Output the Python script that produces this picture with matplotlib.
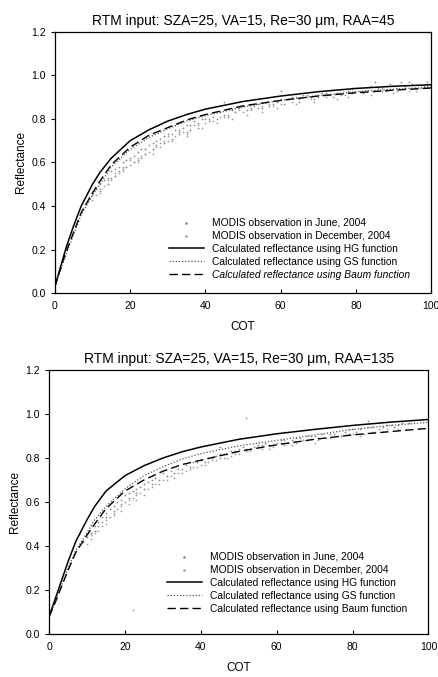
import numpy as np
import matplotlib
matplotlib.use("Agg")
from matplotlib import pyplot as plt

plt.rcParams['font.family'] = ['Liberation Sans', 'DejaVu Sans']

# ---- calculated curves (COT grid shared) ----
cot = [0, 1, 2, 3, 5, 7, 10, 12, 15, 20, 25, 30, 35, 40, 50, 60, 70, 80, 90, 100]

hg_45 = [0.03, 0.09, 0.15, 0.21, 0.31, 0.40, 0.50, 0.555, 0.62, 0.70, 0.75, 0.79, 0.82, 0.845,
         0.88, 0.905, 0.925, 0.94, 0.95, 0.957]
gs_45 = [0.03, 0.08, 0.13, 0.18, 0.27, 0.36, 0.45, 0.50, 0.58, 0.66, 0.715, 0.755, 0.79, 0.815,
         0.855, 0.885, 0.907, 0.925, 0.937, 0.945]
baum_45 = [0.03, 0.085, 0.14, 0.19, 0.28, 0.37, 0.46, 0.515, 0.59, 0.67, 0.725, 0.76, 0.795, 0.82,
           0.86, 0.885, 0.905, 0.92, 0.932, 0.942]

hg_135 = [0.08, 0.13, 0.18, 0.23, 0.33, 0.42, 0.52, 0.58, 0.65, 0.72, 0.765, 0.80, 0.828, 0.85,
          0.885, 0.91, 0.93, 0.948, 0.963, 0.975]
gs_135 = [0.08, 0.12, 0.165, 0.21, 0.30, 0.38, 0.46, 0.52, 0.58, 0.66, 0.72, 0.76, 0.795, 0.82,
          0.855, 0.88, 0.905, 0.93, 0.948, 0.962]
baum_135 = [0.08, 0.12, 0.16, 0.205, 0.29, 0.37, 0.45, 0.50, 0.57, 0.65, 0.70, 0.74, 0.77, 0.79,
            0.83, 0.86, 0.885, 0.905, 0.92, 0.935]

jun_45_x = [8, 9, 10, 11, 12, 12, 13, 14, 15, 15, 16, 17, 18, 18, 19, 20, 21, 22, 22, 23, 24, 25,
            26, 27, 28, 29, 30, 31, 32, 33, 34, 35, 36, 37, 38, 39, 40, 42, 44, 45, 47, 49, 50, 52,
            54, 56, 58, 60, 62, 64, 66, 68, 70, 72, 75, 78, 80, 83, 86, 88, 90, 93, 95, 98, 100,
            45, 60, 85, 92,
            14, 16, 17, 19, 21, 23, 24, 26, 27, 29, 31, 33, 35, 36, 38, 41, 43, 46, 48, 51, 53,
            55, 57, 59, 61, 63, 65, 67, 69, 71, 74, 77, 79, 82, 84, 87, 89, 91, 94, 96, 99]
jun_45_y = [0.41, 0.44, 0.45, 0.48, 0.50, 0.47, 0.52, 0.53, 0.56, 0.53, 0.57, 0.58, 0.60, 0.57,
            0.61, 0.62, 0.63, 0.65, 0.61, 0.66, 0.66, 0.68, 0.69, 0.70, 0.71, 0.72, 0.73, 0.73,
            0.75, 0.75, 0.76, 0.77, 0.77, 0.79, 0.78, 0.80, 0.80, 0.81, 0.83, 0.82, 0.84, 0.85,
            0.86, 0.85, 0.87, 0.88, 0.87, 0.89, 0.89, 0.90, 0.91, 0.90, 0.91, 0.92, 0.92, 0.93,
            0.94, 0.93, 0.94, 0.95, 0.95, 0.94, 0.96, 0.95, 0.96,
            0.88, 0.93, 0.97, 0.97,
            0.50, 0.54, 0.56, 0.58, 0.60, 0.62, 0.64, 0.66, 0.68, 0.69, 0.71, 0.73, 0.74, 0.75,
            0.76, 0.79, 0.80, 0.81, 0.83, 0.84, 0.86, 0.85, 0.86, 0.88, 0.87, 0.90, 0.88, 0.91,
            0.89, 0.92, 0.90, 0.91, 0.94, 0.92, 0.95, 0.93, 0.96, 0.93, 0.97, 0.94, 0.97]
dec_45_x = [10, 11, 12, 13, 14, 15, 16, 17, 18, 19, 20, 21, 22, 23, 24, 25, 26, 27, 28, 29, 30,
            32, 34, 36, 38, 40, 42, 44, 46, 48, 50, 52, 55, 58, 60, 63, 65, 68, 70, 73, 76, 79,
            82, 85, 88, 91, 94, 97, 100, 35, 55, 75,
            12, 14, 16, 18, 20, 22, 24, 26, 28, 30, 31, 33, 35, 37, 39, 41, 43, 45, 47, 49, 51,
            54, 57, 59, 62, 64, 67, 69, 72, 75, 78, 81, 84, 87, 90, 93, 96, 99]
dec_45_y = [0.43, 0.45, 0.46, 0.49, 0.50, 0.52, 0.54, 0.55, 0.56, 0.58, 0.59, 0.60, 0.62, 0.63,
            0.64, 0.65, 0.66, 0.67, 0.69, 0.70, 0.70, 0.72, 0.74, 0.75, 0.77, 0.78, 0.79, 0.81,
            0.82, 0.83, 0.83, 0.84, 0.86, 0.86, 0.87, 0.88, 0.89, 0.89, 0.90, 0.91, 0.91, 0.92,
            0.92, 0.93, 0.93, 0.94, 0.93, 0.94, 0.94, 0.72, 0.83, 0.89,
            0.48, 0.52, 0.55, 0.58, 0.61, 0.60, 0.66, 0.64, 0.67, 0.72, 0.70, 0.74, 0.73, 0.77,
            0.76, 0.80, 0.78, 0.81, 0.80, 0.84, 0.82, 0.85, 0.87, 0.85, 0.89, 0.87, 0.90, 0.88,
            0.90, 0.92, 0.90, 0.93, 0.91, 0.94, 0.92, 0.95, 0.93, 0.95]

jun_135_x = [9, 10, 11, 12, 13, 14, 15, 16, 17, 18, 19, 20, 21, 22, 23, 24, 25, 26, 27, 28, 30,
             32, 34, 36, 38, 40, 42, 44, 46, 48, 50, 52, 54, 56, 58, 60, 62, 64, 66, 68, 70, 72,
             75, 78, 80, 82, 85, 88, 90, 92, 95, 45, 62, 84, 52, 72,
             12, 14, 15, 17, 19, 21, 23, 25, 27, 29, 31, 33, 35, 37, 39, 41, 43, 45, 47, 49, 51,
             53, 55, 57, 59, 61, 63, 65, 67, 69, 71, 74, 77, 79, 81, 84, 87, 89, 91, 93]
jun_135_y = [0.42, 0.44, 0.46, 0.49, 0.51, 0.53, 0.55, 0.57, 0.58, 0.60, 0.61, 0.63, 0.64, 0.65,
             0.66, 0.67, 0.68, 0.69, 0.70, 0.71, 0.73, 0.74, 0.75, 0.77, 0.78, 0.79, 0.80, 0.81,
             0.82, 0.83, 0.84, 0.84, 0.85, 0.86, 0.86, 0.87, 0.88, 0.88, 0.89, 0.90, 0.90, 0.91,
             0.91, 0.92, 0.93, 0.93, 0.94, 0.94, 0.95, 0.95, 0.96, 0.85, 0.92, 0.97, 0.98, 0.31,
             0.47, 0.51, 0.53, 0.56, 0.59, 0.62, 0.64, 0.66, 0.68, 0.70, 0.72, 0.73, 0.75, 0.76,
             0.78, 0.78, 0.80, 0.82, 0.82, 0.83, 0.85, 0.84, 0.86, 0.87, 0.86, 0.88, 0.87, 0.89,
             0.88, 0.90, 0.89, 0.91, 0.90, 0.93, 0.92, 0.94, 0.93, 0.95, 0.94, 0.96]
dec_135_x = [10, 11, 12, 13, 14, 15, 16, 17, 18, 19, 20, 21, 22, 23, 24, 25, 26, 28, 30, 32,
             34, 36, 38, 40, 42, 44, 46, 48, 50, 53, 56, 59, 62, 65, 68, 71, 74, 77, 80, 83,
             86, 89, 92, 22,
             11, 13, 15, 17, 19, 21, 23, 25, 27, 29, 31, 33, 35, 37, 39, 41, 43, 45, 47, 49,
             52, 55, 58, 61, 64, 67, 70, 73, 76, 79, 82, 85, 88, 91, 94]
dec_135_y = [0.41, 0.43, 0.46, 0.47, 0.49, 0.52, 0.53, 0.55, 0.57, 0.58, 0.60, 0.61, 0.62, 0.63,
             0.64, 0.66, 0.66, 0.68, 0.70, 0.72, 0.73, 0.74, 0.76, 0.77, 0.78, 0.79, 0.80, 0.81,
             0.82, 0.83, 0.84, 0.85, 0.86, 0.87, 0.88, 0.88, 0.89, 0.90, 0.91, 0.91, 0.92, 0.93,
             0.93, 0.11,
             0.45, 0.49, 0.50, 0.54, 0.56, 0.59, 0.61, 0.63, 0.67, 0.68, 0.70, 0.71, 0.73, 0.75,
             0.76, 0.77, 0.79, 0.80, 0.80, 0.82, 0.83, 0.85, 0.84, 0.87, 0.86, 0.88, 0.87, 0.89,
             0.90, 0.91, 0.90, 0.92, 0.92, 0.94, 0.93]

labels = ['MODIS observation in June, 2004',
          'MODIS observation in December, 2004',
          'Calculated reflectance using HG function',
          'Calculated reflectance using GS function',
          'Calculated reflectance using Baum function']

fig = plt.figure(figsize=(4.39, 6.77), dpi=100)
ax1 = fig.add_axes([0.125, 0.567, 0.857, 0.386])
ax2 = fig.add_axes([0.112, 0.0635, 0.864, 0.390])


def panel(ax, title, jx, jy, dx, dy, hg, gs, baum, italic_last, legend_anchor, ypad):
    ax.scatter(jx, jy, s=1.6, color='#8a8a8a', linewidths=0, label=labels[0])
    ax.scatter(dx, dy, s=1.6, color='#a0a0a0', linewidths=0, label=labels[1])
    ax.plot(cot, hg, color='black', lw=1.1, ls='-', label=labels[2])
    ax.plot(cot, gs, color='#555555', lw=0.9, ls=(0, (1, 1.5)), label=labels[3])
    ax.plot(cot, baum, color='black', lw=1.0, ls=(0, (6, 3)), label=labels[4])
    ax.set_xlim(0, 100)
    ax.set_ylim(0, 1.2)
    ax.set_xticks([0, 20, 40, 60, 80, 100])
    ax.set_yticks([0.0, 0.2, 0.4, 0.6, 0.8, 1.0, 1.2])
    ax.set_yticklabels(['0.0', '0.2', '0.4', '0.6', '0.8', '1.0', '1.2'])
    ax.tick_params(axis='x', direction='in', length=3, labelsize=7.5, pad=6)
    ax.tick_params(axis='y', direction='out', length=3, labelsize=7.5)
    ax.set_xlabel('COT', fontsize=8.5, labelpad=7)
    ax.set_ylabel('Reflectance', fontsize=8.5, labelpad=ypad)
    ax.set_title(title, fontsize=10, pad=5)
    leg = ax.legend(loc='lower right', bbox_to_anchor=legend_anchor, frameon=False,
                    fontsize=7.4, handlelength=3.4, handletextpad=0.8,
                    labelspacing=0.3, markerscale=1.5, borderaxespad=0)
    if italic_last:
        leg.get_texts()[-1].set_style('italic')
    for sp in ax.spines.values():
        sp.set_linewidth(0.9)


panel(ax1, 'RTM input: SZA=25, VA=15, Re=30 \u03bcm, RAA=45',
      jun_45_x, jun_45_y, dec_45_x, dec_45_y, hg_45, gs_45, baum_45, True, (0.955, 0.035), 3)
panel(ax2, 'RTM input: SZA=25, VA=15, Re=30 \u03bcm, RAA=135',
      jun_135_x, jun_135_y, dec_135_x, dec_135_y, hg_135, gs_135, baum_135, False, (0.955, 0.06), 3)

fig.savefig('out.png', dpi=100)
